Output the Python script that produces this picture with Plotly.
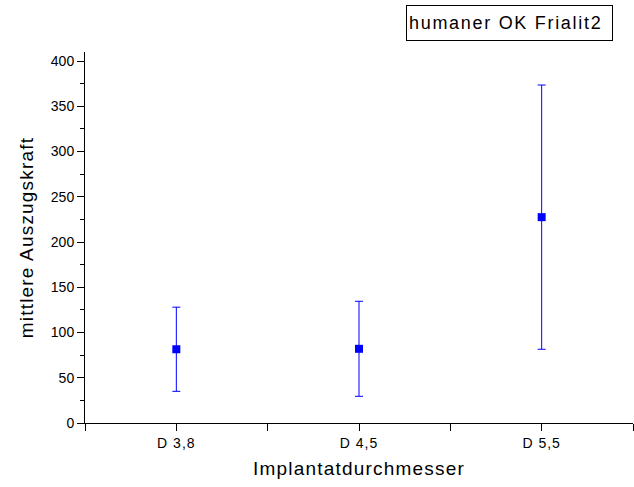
import plotly.graph_objects as go

categories = ["D 3,8", "D 4,5", "D 5,5"]
x_pos = [0.5, 1.5, 2.5]
means = [81.5, 82.0, 227.5]
errors = [46.5, 52.5, 146.0]
y_ticks = [0, 50, 100, 150, 200, 250, 300, 350, 400]


def spaced(text, px):
    return f'<span style="letter-spacing:{px}px">{text}</span>'


fig = go.Figure()
fig.add_trace(go.Scatter(
    x=x_pos, y=means, mode="markers",
    marker=dict(symbol="square", size=8, color="#0000FF"),
    error_y=dict(type="data", array=errors, visible=True, color="#0000FF",
                 thickness=1, width=4),
    showlegend=False,
))

font = "Liberation Sans, Arial, sans-serif"
fig.update_layout(
    width=634, height=487,
    margin=dict(l=85, r=1, t=52, b=64),
    paper_bgcolor="white", plot_bgcolor="white",
    font=dict(family=font, color="black"),
    xaxis=dict(
        range=[0, 3], tickvals=x_pos, ticktext=[spaced(c, 1.0) for c in categories],
        showline=True, linecolor="black", linewidth=1,
        ticks="outside", ticklen=7, tickcolor="black",
        minor=dict(tickvals=[0, 1, 2, 3], ticks="outside", ticklen=7, tickcolor="black"),
        showgrid=False, zeroline=False,
        tickfont=dict(size=14, family=font),
        title=dict(text=spaced("Implantatdurchmesser", 1.2), font=dict(size=19, family=font), standoff=11),
    ),
    yaxis=dict(
        range=[0, 410], tickvals=y_ticks,
        showline=True, linecolor="black", linewidth=1,
        ticks="outside", ticklen=7, tickcolor="black",
        minor=dict(dtick=25, tick0=0, ticks="outside", ticklen=4, tickcolor="black"),
        showgrid=False, zeroline=False,
        tickfont=dict(size=14, family=font),
        title=dict(text=spaced("mittlere Auszugskraft", 1.2), font=dict(size=19, family=font), standoff=12),
    ),
    annotations=[dict(
        text=spaced("humaner OK Frialit2", 1.7), xref="paper", yref="paper",
        x=(406 - 85) / 548, y=1 + (52 - 22.5) / 371, xanchor="left", yanchor="middle",
        showarrow=False, font=dict(size=18, family=font, color="black"),
        bordercolor="black", borderwidth=1, borderpad=2, bgcolor="white",
        width=201, height=30, align="left",
    )],
)

fig.write_html("out.html")
